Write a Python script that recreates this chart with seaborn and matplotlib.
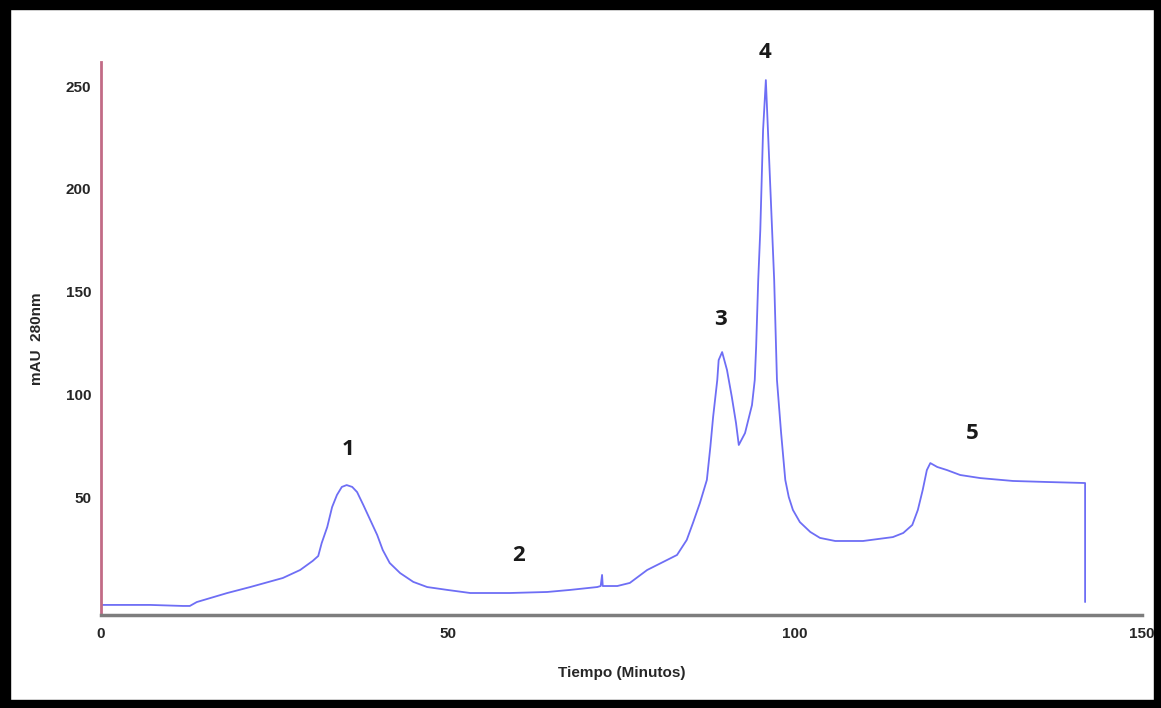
import matplotlib
matplotlib.use("Agg")
import matplotlib.pyplot as plt
from matplotlib.patches import Rectangle
import seaborn as sns
import pandas as pd

# Chromatogram trace (time in minutes, absorbance in mAU at 280 nm)
tiempo = [0.0, 7.1, 11.8, 12.8, 13.8, 18.2, 21.5, 26.2, 28.7, 30.5, 31.3, 31.8,
          32.6, 33.3, 34.0, 34.7, 35.4, 36.2, 36.9, 37.8, 38.8, 39.8, 40.6, 41.6,
          43.1, 45.0, 47.0, 49.9, 53.2, 58.9, 64.3, 67.6, 71.5, 72.0, 72.2, 72.3,
          74.4, 76.2, 78.7, 81.0, 83.0, 84.4, 85.3, 86.3, 87.3, 87.8, 88.2, 88.8,
          89.0, 89.5, 90.2, 90.9, 91.5, 91.9, 92.8, 93.8, 94.2, 94.4, 94.7, 95.0,
          95.4, 95.8, 96.1, 96.7, 97.0, 97.4, 98.0, 98.6, 99.1, 99.7, 100.7, 102.2,
          103.6, 105.8, 109.8, 114.1, 115.6, 116.9, 117.7, 118.4, 119.0, 119.5,
          120.5, 121.9, 123.8, 126.7, 131.4, 136.3, 141.8, 141.8]
mau = [-2.4, -2.4, -2.9, -2.9, -1.0, 3.4, 6.3, 10.7, 14.6, 19.0, 21.4, 27.7,
       35.5, 45.2, 51.1, 55.0, 55.9, 55.0, 52.5, 46.2, 38.9, 31.6, 24.3, 18.0,
       13.1, 8.8, 6.3, 4.9, 3.4, 3.4, 3.9, 4.9, 6.3, 6.8, 12.2, 6.8,
       6.8, 8.3, 14.6, 18.5, 21.9, 29.2, 37.5, 47.2, 58.4, 74.4, 89.0, 107.0,
       116.7, 120.6, 111.9, 98.7, 86.1, 75.4, 81.2, 94.8, 107.0, 123.1, 155.6, 180.0,
       228.6, 252.9, 228.6, 180.0, 155.6, 107.0, 81.2, 58.4, 50.1, 43.8, 37.9, 33.1,
       30.2, 28.7, 28.7, 30.6, 32.6, 36.5, 43.8, 53.5, 63.2, 66.6,
       64.7, 63.2, 60.8, 59.3, 57.9, 57.4, 56.9, -1.0]

# Peak annotations
peak_labels = ["1", "2", "3", "4", "5"]
peak_x = [35.6, 60.1, 89.2, 95.7, 125.5]
peak_y = [73.0, 21.4, 136.2, 266.5, 81.2]

x_ticks = [0, 50, 100, 150]
y_ticks = [50, 100, 150, 200, 250]

df = pd.DataFrame({"Tiempo": tiempo, "mAU": mau})

sns.set_style("white")
plt.rcParams["font.family"] = ["Liberation Sans", "DejaVu Sans"]

fig = plt.figure(figsize=(11.61, 7.08), dpi=100)
ax = fig.add_axes([101 / 1161, (708 - 615) / 708, (1142 - 101) / 1161, (615 - 62) / 708])

sns.lineplot(data=df, x="Tiempo", y="mAU", ax=ax, sort=False, estimator=None,
             color="#6e6ef5", linewidth=1.3)

ax.set_xlim(0, 150)
ax.set_ylim(-7.3, 261.7)
ax.set_xticks(x_ticks)
ax.set_yticks(y_ticks)
ax.tick_params(axis="both", length=0, labelsize=11)
ax.tick_params(axis="x", pad=9)
ax.tick_params(axis="y", pad=7)
for lab in ax.get_xticklabels() + ax.get_yticklabels():
    lab.set_fontweight("bold")

for s in ["top", "right"]:
    ax.spines[s].set_visible(False)
ax.spines["left"].set_color("#c26b86")
ax.spines["left"].set_linewidth(2)
ax.spines["bottom"].set_color("#7d7d7d")
ax.spines["bottom"].set_linewidth(2.5)

ax.set_xlabel("Tiempo (Minutos)", fontsize=11, fontweight="bold", labelpad=18)
ax.set_ylabel("mAU  280nm", fontsize=11, fontweight="bold", labelpad=16)

for lab, px, py in zip(peak_labels, peak_x, peak_y):
    ax.text(px, py, lab, ha="center", va="center", fontsize=16,
            family=["Open Sans", "DejaVu Sans"], fontweight="bold",
            color="#1a1a1a", clip_on=False)

# Black picture frame
W, H = 1161, 708
for (x0, y0, w, h) in [(0, 0, 10, H), (W - 7, 0, 7, H), (0, 0, W, 9), (0, H - 8, W, 8)]:
    fig.patches.append(Rectangle((x0 / W, 1 - (y0 + h) / H), w / W, h / H,
                                 transform=fig.transFigure, color="black", zorder=10))

fig.savefig("out.png", dpi=100)
